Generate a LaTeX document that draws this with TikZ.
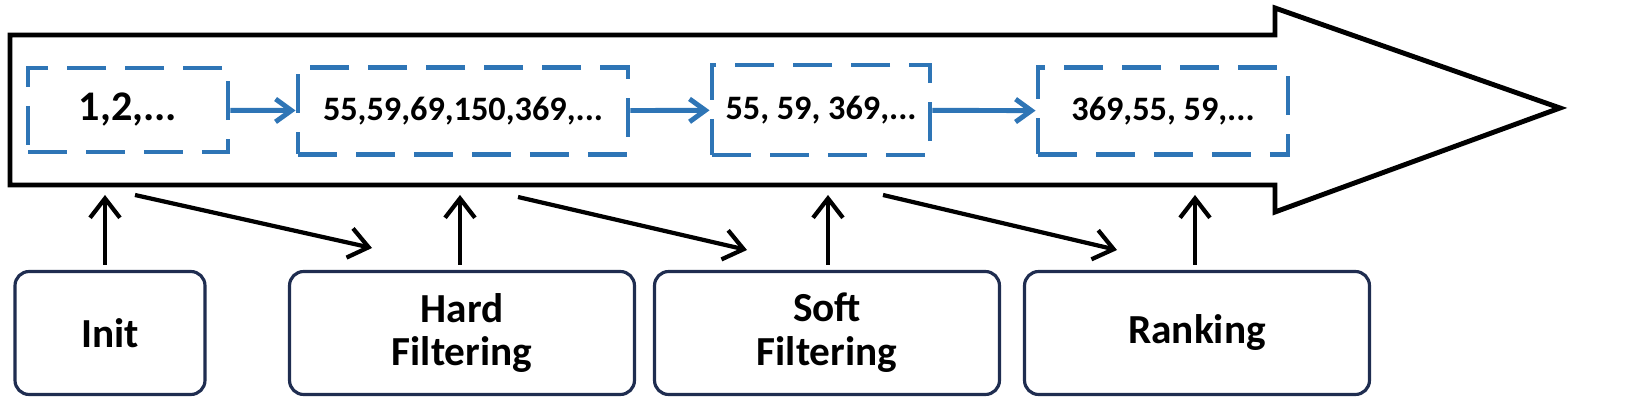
\documentclass[tikz,border=0pt]{standalone}
\usepackage{fontspec}
\setmainfont{Carlito}
\usetikzlibrary{arrows.meta,positioning}
\definecolor{dashblue}{HTML}{2E75B6}
\definecolor{navy}{HTML}{1F2D50}
\begin{document}
\begin{tikzpicture}[x=0.02cm,y=-0.02cm,
	cand/.style={draw=dashblue,line width=2.8pt,dash pattern=on 22pt off 11pt,inner sep=0pt,font=\bfseries\fontsize{19.5}{21}\selectfont},
	stage/.style={draw=navy,line width=1.8pt,rounded corners=8pt,inner sep=0pt,align=center,font=\bfseries\fontsize{23.5}{25}\selectfont},
	flow/.style={-{Straight Barb[length=9pt,width=13pt]},dashblue,line width=2.8pt},
	feed/.style={-{Straight Barb[length=11pt,width=17pt]},black,line width=2.4pt}]
	\useasboundingbox (0,0) rectangle (1644,405);
	% big arrow
	\draw[line width=2.8pt,line join=miter] (10,35) -- (1275,35) -- (1275,8) -- (1560,108) -- (1275,212) -- (1275,185) -- (10,185) -- cycle;
	% candidate lists
	\node[cand,minimum width=4cm,minimum height=1.68cm,font=\bfseries\fontsize{24}{26}\selectfont] (c1) at (128,110) {1,2,...};
	\node[cand,minimum width=6.6cm,minimum height=1.74cm] (c2) at (463,111) {55,59,69,150,369,...};
	\node[cand,minimum width=4.36cm,minimum height=1.8cm] (c3) at (821,110) {55, 59, 369,...};
	\node[cand,minimum width=5cm,minimum height=1.74cm] (c4) at (1163,111) {369,55, 59,...};
	\draw[flow] (c1) -- (c2);
	\draw[flow] (c2) -- (c3);
	\draw[flow] (c3) -- (c4);
	% stages
	\node[stage,minimum width=3.8cm,minimum height=2.46cm] (init) at (110,333) {Init};
	\node[stage,minimum width=6.9cm,minimum height=2.46cm] (hard) at (462,333) {Hard\\Filtering};
	\node[stage,minimum width=6.9cm,minimum height=2.46cm] (soft) at (827,333) {Soft\\Filtering};
	\node[stage,minimum width=6.9cm,minimum height=2.46cm] (rank) at (1197,333) {Ranking};
	\coordinate (t1) at (105,195); \coordinate (t2) at (460,195);
	\coordinate (t3) at (828,195); \coordinate (t4) at (1195,195);
	\draw[feed] (t1 |- init.north) ++(0,-5) -- (t1);
	\draw[feed] (t2 |- hard.north) ++(0,-5) -- (t2);
	\draw[feed] (t3 |- soft.north) ++(0,-5) -- (t3);
	\draw[feed] (t4 |- rank.north) ++(0,-5) -- (t4);
	\coordinate (d1) at (135,195); \coordinate (e1) at (372,248);
	\coordinate (d2) at (518,197); \coordinate (e2) at (747,250);
	\coordinate (d3) at (883,195); \coordinate (e3) at (1117,250);
	\draw[feed] (d1) -- (e1);
	\draw[feed] (d2) -- (e2);
	\draw[feed] (d3) -- (e3);
\end{tikzpicture}
\end{document}
